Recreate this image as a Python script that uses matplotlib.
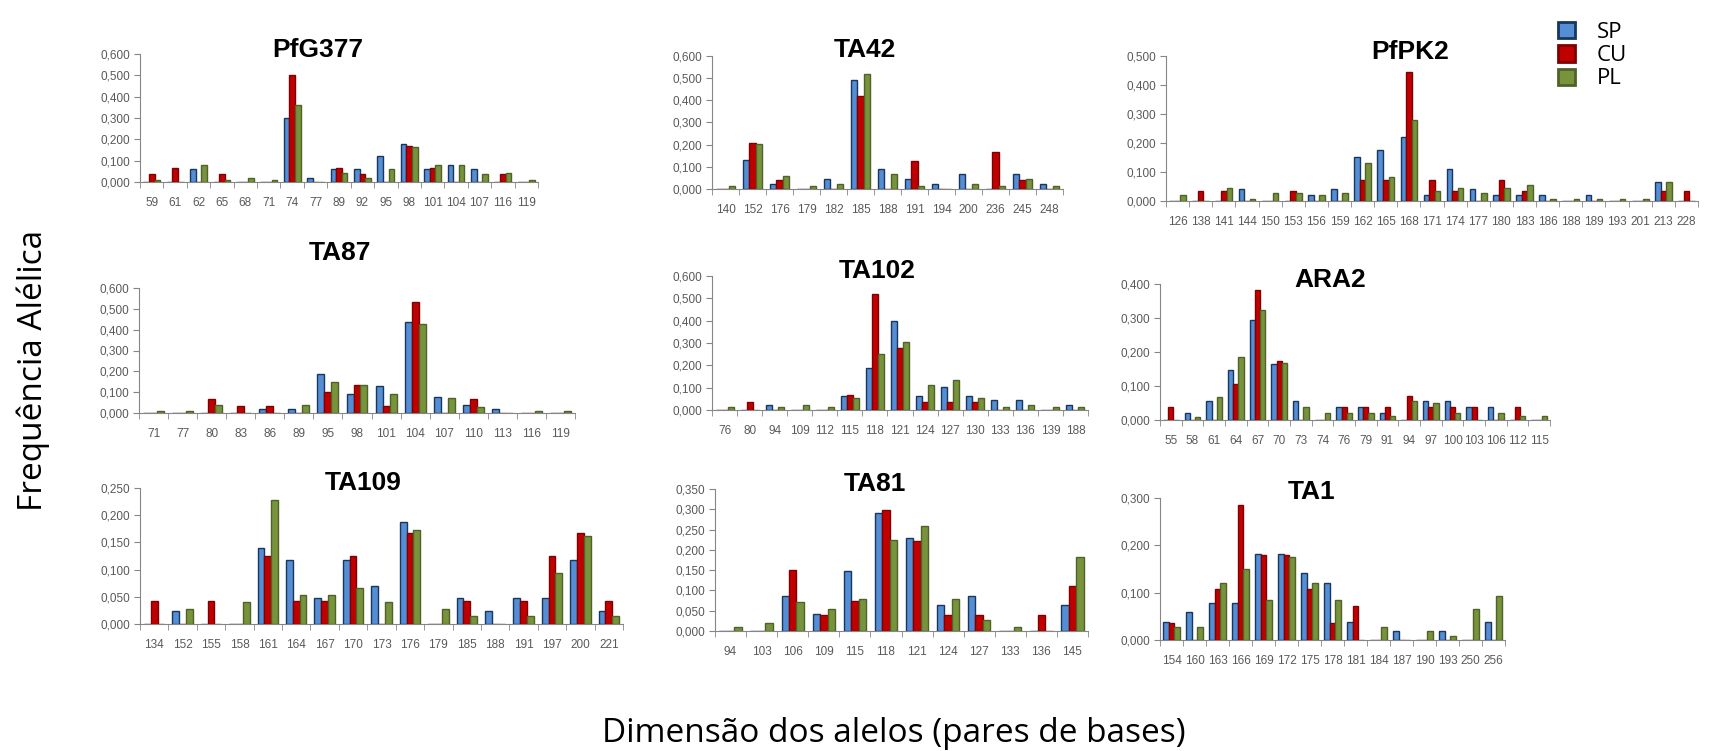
import matplotlib
matplotlib.use("Agg")
import matplotlib.pyplot as plt
from matplotlib.ticker import FuncFormatter, MultipleLocator
from matplotlib.patches import Patch

# ---- data (allele size in bp, frequency per population) ----
pfg377_alleles = ["59", "61", "62", "65", "68", "71", "74", "77", "89", "92", "95", "98", "101", "104", "107", "116", "119"]
pfg377_sp = [0, 0, 0.060, 0, 0, 0, 0.300, 0.020, 0.060, 0.060, 0.120, 0.180, 0.060, 0.080, 0.060, 0, 0]
pfg377_cu = [0.036, 0.067, 0, 0.036, 0, 0, 0.500, 0, 0.067, 0.036, 0, 0.167, 0.067, 0, 0, 0.036, 0]
pfg377_pl = [0.010, 0, 0.080, 0.010, 0.020, 0.010, 0.360, 0, 0.042, 0.020, 0.060, 0.162, 0.080, 0.080, 0.036, 0.042, 0.010]

ta42_alleles = ["140", "152", "176", "179", "182", "185", "188", "191", "194", "200", "236", "245", "248"]
ta42_sp = [0, 0.132, 0.021, 0, 0.044, 0.490, 0.089, 0.044, 0.021, 0.066, 0, 0.066, 0.021]
ta42_cu = [0, 0.209, 0.042, 0, 0, 0.418, 0, 0.125, 0, 0, 0.167, 0.042, 0]
ta42_pl = [0.013, 0.204, 0.057, 0.013, 0.022, 0.520, 0.069, 0.013, 0, 0.022, 0.013, 0.045, 0.013]

pfpk2_alleles = ["126", "138", "141", "144", "150", "153", "156", "159", "162", "165", "168", "171",
                 "174", "177", "180", "183", "186", "188", "189", "193", "201", "213", "228"]
pfpk2_sp = [0, 0, 0, 0.043, 0, 0, 0.020, 0.043, 0.153, 0.177, 0.221, 0.020,
            0.111, 0.043, 0.020, 0.020, 0.020, 0, 0.020, 0, 0, 0.066, 0]
pfpk2_cu = [0, 0.036, 0.036, 0, 0, 0.036, 0, 0, 0.074, 0.074, 0.445, 0.074,
            0.036, 0, 0.074, 0.036, 0, 0, 0, 0, 0, 0.036, 0.036]
pfpk2_pl = [0.019, 0, 0.046, 0.008, 0.028, 0.028, 0.019, 0.028, 0.131, 0.083, 0.280, 0.036,
            0.046, 0.028, 0.046, 0.056, 0.008, 0.008, 0.008, 0.008, 0.008, 0.066, 0]

ta87_alleles = ["71", "77", "80", "83", "86", "89", "95", "98", "101", "104", "107", "110", "113", "116", "119"]
ta87_sp = [0, 0, 0, 0, 0.019, 0.019, 0.185, 0.092, 0.129, 0.438, 0.075, 0.037, 0.019, 0, 0]
ta87_cu = [0, 0, 0.067, 0.033, 0.033, 0, 0.102, 0.133, 0.033, 0.533, 0, 0.067, 0, 0, 0]
ta87_pl = [0.010, 0.010, 0.038, 0, 0, 0.038, 0.150, 0.133, 0.089, 0.425, 0.072, 0.027, 0, 0.010, 0.010]

ta102_alleles = ["76", "80", "94", "109", "112", "115", "118", "121", "124", "127", "130", "133", "136", "139", "188"]
ta102_sp = [0, 0, 0.022, 0, 0, 0.064, 0.187, 0.397, 0.064, 0.104, 0.064, 0.043, 0.043, 0, 0.022]
ta102_cu = [0, 0.037, 0, 0, 0, 0.068, 0.519, 0.278, 0.037, 0.037, 0.037, 0, 0, 0, 0]
ta102_pl = [0.013, 0, 0.013, 0.022, 0.013, 0.054, 0.251, 0.304, 0.111, 0.134, 0.054, 0.013, 0.022, 0.013, 0.013]

ara2_alleles = ["55", "58", "61", "64", "67", "70", "73", "74", "76", "79", "91", "94", "97", "100", "103", "106", "112", "115"]
ara2_sp = [0, 0.021, 0.057, 0.147, 0.293, 0.164, 0.057, 0, 0.039, 0.039, 0.021, 0, 0.057, 0.057, 0.039, 0.039, 0, 0]
ara2_cu = [0.037, 0, 0, 0.105, 0.381, 0.173, 0, 0, 0.037, 0.037, 0.037, 0.070, 0.037, 0.037, 0.037, 0, 0.037, 0]
ara2_pl = [0, 0.010, 0.067, 0.186, 0.323, 0.167, 0.039, 0.021, 0.021, 0.021, 0.011, 0.057, 0.049, 0.021, 0, 0.021, 0.011, 0.011]

ta109_alleles = ["134", "152", "155", "158", "161", "164", "167", "170", "173", "176", "179", "185", "188", "191", "197", "200", "221"]
ta109_sp = [0, 0.023, 0, 0, 0.140, 0.117, 0.047, 0.117, 0.070, 0.187, 0, 0.047, 0.023, 0.047, 0.047, 0.117, 0.023]
ta109_cu = [0.042, 0, 0.042, 0, 0.125, 0.042, 0.042, 0.125, 0, 0.168, 0, 0.042, 0, 0.042, 0.125, 0.168, 0.042]
ta109_pl = [0, 0.027, 0, 0.040, 0.228, 0.053, 0.053, 0.067, 0.040, 0.173, 0.027, 0.014, 0, 0.014, 0.093, 0.161, 0.014]

ta81_alleles = ["94", "103", "106", "109", "115", "118", "121", "124", "127", "133", "136", "145"]
ta81_sp = [0, 0, 0.086, 0.043, 0.148, 0.291, 0.230, 0.064, 0.086, 0, 0, 0.064]
ta81_cu = [0, 0, 0.150, 0.040, 0.075, 0.298, 0.223, 0.040, 0.040, 0, 0.040, 0.112]
ta81_pl = [0.011, 0.020, 0.072, 0.054, 0.079, 0.225, 0.260, 0.079, 0.027, 0.011, 0, 0.182]

ta1_alleles = ["154", "160", "163", "166", "169", "172", "175", "178", "181", "184", "187", "190", "193", "250", "256"]
ta1_sp = [0.039, 0.060, 0.079, 0.079, 0.181, 0.181, 0.141, 0.121, 0.039, 0, 0.019, 0, 0.019, 0, 0.039]
ta1_cu = [0.036, 0, 0.107, 0.286, 0.179, 0.179, 0.107, 0.036, 0.072, 0, 0, 0, 0, 0, 0]
ta1_pl = [0.028, 0.028, 0.121, 0.149, 0.084, 0.176, 0.121, 0.084, 0, 0.028, 0, 0.018, 0.009, 0.065, 0.094]

populations = ["SP", "CU", "PL"]
fills = ["#558ED5", "#C00000", "#77933C"]
edges = ["#17375E", "#7F0000", "#4F6228"]

W, H = 1709, 751
fig = plt.figure(figsize=(W / 100, H / 100), dpi=100)

tick_color = "#595959"
fmt = FuncFormatter(lambda v, p: f"{v:.3f}".replace(".", ","))


def panel(x0, x1, ytop, ybot, title, tx, ty, alleles, sp, cu, pl, ymax, ystep):
    ax = fig.add_axes([x0 / W, 1 - ybot / H, (x1 - x0) / W, (ybot - ytop) / H])
    n = len(alleles)
    idx = list(range(n))
    w = 0.24
    for k, vals in enumerate([sp, cu, pl]):
        ax.bar([i + (k - 1) * w for i in idx], vals, width=w,
               color=fills[k], edgecolor=edges[k], linewidth=1.0, zorder=3)
    ax.set_xlim(-0.5, n - 0.5)
    ax.set_ylim(0, ymax)
    ax.yaxis.set_major_locator(MultipleLocator(ystep))
    ax.yaxis.set_major_formatter(fmt)
    ax.set_xticks(idx)
    ax.set_xticklabels(alleles)
    ax.set_xticks([i - 0.5 for i in range(n + 1)], minor=True)
    ax.tick_params(axis="x", which="major", length=0, pad=11, labelsize=8.5, labelcolor=tick_color)
    ax.tick_params(axis="x", which="minor", length=4, color="#868686", direction="out")
    ax.tick_params(axis="y", length=4, color="#868686", pad=3, labelsize=8.5, labelcolor=tick_color)
    for s in ["top", "right"]:
        ax.spines[s].set_visible(False)
    for s in ["left", "bottom"]:
        ax.spines[s].set_color("#868686")
    for lab in ax.get_xticklabels() + ax.get_yticklabels():
        lab.set_family("Liberation Sans")
    fig.text(tx / W, 1 - ty / H, title, ha="center", va="center",
             fontsize=19, fontweight="bold", family="Liberation Sans")
    return ax


panel(140, 538, 54, 182, "PfG377", 318, 50, pfg377_alleles, pfg377_sp, pfg377_cu, pfg377_pl, 0.6, 0.1)
panel(712, 1063, 56, 189, "TA42", 865, 50, ta42_alleles, ta42_sp, ta42_cu, ta42_pl, 0.6, 0.1)
panel(1166, 1698, 56, 201, "PfPK2", 1410, 52, pfpk2_alleles, pfpk2_sp, pfpk2_cu, pfpk2_pl, 0.5, 0.1)

panel(139, 575, 288, 413, "TA87", 340, 253, ta87_alleles, ta87_sp, ta87_cu, ta87_pl, 0.6, 0.1)
panel(712, 1088, 276, 410, "TA102", 877, 271, ta102_alleles, ta102_sp, ta102_cu, ta102_pl, 0.6, 0.1)
panel(1160, 1550, 284, 420, "ARA2", 1330, 280, ara2_alleles, ara2_sp, ara2_cu, ara2_pl, 0.4, 0.1)

panel(140, 623, 488, 624, "TA109", 363, 483, ta109_alleles, ta109_sp, ta109_cu, ta109_pl, 0.25, 0.05)
panel(715, 1088, 489, 631, "TA81", 875, 484, ta81_alleles, ta81_sp, ta81_cu, ta81_pl, 0.35, 0.05)
panel(1160, 1505, 498, 640, "TA1", 1312, 492, ta1_alleles, ta1_sp, ta1_cu, ta1_pl, 0.3, 0.1)

# legend
handles = [Patch(facecolor=fills[k], edgecolor=edges[k], linewidth=2) for k in range(3)]
fig.legend(handles, populations, loc="upper left", bbox_to_anchor=(1538 / W, 1 - 2 / H),
           frameon=False, handlelength=0.75, handleheight=0.75,
           handletextpad=1.0, labelspacing=0.1, prop={"family": "Open Sans", "size": 16})

fig.text(33 / W, 1 - 370 / H, "Frequência Alélica", rotation=90, ha="center", va="center",
         fontsize=24, family="Open Sans")
fig.text(894 / W, 1 - 734 / H, "Dimensão dos alelos (pares de bases)", ha="center", va="center",
         fontsize=24, family="Open Sans")

fig.savefig("out.png", dpi=100)
